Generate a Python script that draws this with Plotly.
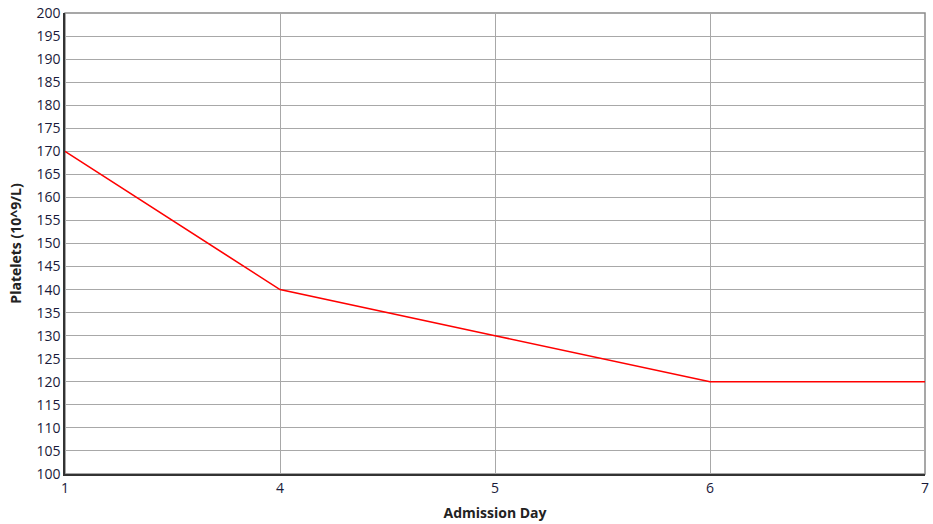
import plotly.graph_objects as go

days = ["1", "4", "5", "6", "7"]
platelets = [170, 140, 130, 120, 120]
y_ticks = list(range(100, 201, 5))

x_pos = list(range(len(days)))

fig = go.Figure()
fig.add_trace(go.Scatter(x=x_pos, y=platelets, mode="lines",
                         line=dict(color="#ff0000", width=1.6), showlegend=False))

# grey frame on top/right
fig.add_shape(type="rect", xref="paper", yref="paper", x0=0, x1=1, y0=0, y1=1,
              line=dict(color="#8a8a8a", width=1.5), layer="below")

fig.update_layout(
    width=933, height=524,
    margin=dict(l=65, r=8, t=13, b=50, autoexpand=False),
    plot_bgcolor="white", paper_bgcolor="white",
    font=dict(family="Open Sans", size=14, color="#1a1a3a"),
    xaxis=dict(range=[0, 4], tickvals=x_pos, ticktext=days, automargin=False,
               showgrid=True, gridcolor="#a8a8a8", gridwidth=1, zeroline=False,
               showline=True, linecolor="#333333", linewidth=1.5,
               ticks="", tickfont=dict(size=14, color="#1a1a3a"),
               title=dict(text="<b>Admission Day</b>", font=dict(size=14, color="#222222"), standoff=13)),
    yaxis=dict(range=[100, 200], tickvals=y_ticks, automargin=False,
               showgrid=True, gridcolor="#a8a8a8", gridwidth=1,
               showline=True, linecolor="#333333", linewidth=1.5, zeroline=False,
               ticks="", tickfont=dict(size=14, color="#1a1a3a"),
               title=dict(text="<b>Platelets (10^9/L)</b>", font=dict(size=14, color="#222222"), standoff=12)),
)

fig.write_html("out.html", config={"displayModeBar": False},
               post_script="document.body.style.margin='0';")
